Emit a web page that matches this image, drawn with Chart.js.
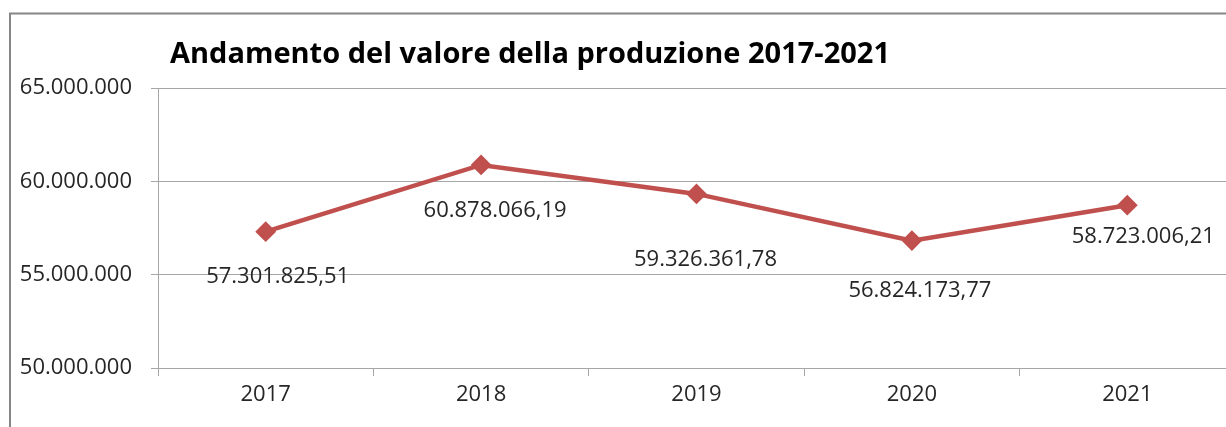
<!DOCTYPE html>
<html lang="it">
<head>
<meta charset="utf-8">
<title>Andamento del valore della produzione 2017-2021</title>
<script src="https://cdn.jsdelivr.net/npm/chart.js@4/dist/chart.umd.min.js"></script>
<style>
  html, body { margin: 0; padding: 0; background: #ffffff; overflow: hidden; }
  #wrap { width: 1226px; height: 427px; overflow: hidden; }
  canvas { display: block; }
</style>
</head>
<body>
<div id="wrap"><canvas id="chart" width="1260" height="427"></canvas></div>
<script>
// Production value by year (euro)
const years = ['2017', '2018', '2019', '2020', '2021'];
const productionValue = [57301825.51, 60878066.19, 59326361.78, 56824173.77, 58723006.21];
const yTicks = [50000000, 55000000, 60000000, 65000000];
const chartTitle = 'Andamento del valore della produzione 2017-2021';

const FONT = '"Open Sans", "DejaVu Sans", sans-serif';
const RED = '#C0504D';
const GRID = '#a6a6a6';

// Italian number formatting: "." thousands, "," decimals
function formatIt(value, decimals) {
  const neg = value < 0;
  const fixed = Math.abs(value).toFixed(decimals);
  const parts = fixed.split('.');
  const intPart = parts[0].replace(/\B(?=(\d{3})+(?!\d))/g, '.');
  return (neg ? '-' : '') + intPart + (decimals > 0 ? ',' + parts[1] : '');
}

// Outer frame and the title text
const framePlugin = {
  id: 'frame',
  beforeDraw(chart) {
    const ctx = chart.ctx;
    ctx.save();
    ctx.strokeStyle = '#868686';
    ctx.lineWidth = 2;
    ctx.strokeRect(10, 13.5, chart.width + 40, chart.height + 40);
    ctx.fillStyle = '#000000';
    ctx.font = 'bold 29px ' + FONT;
    ctx.textAlign = 'left';
    ctx.textBaseline = 'alphabetic';
    ctx.fillText(chartTitle, 170, 63);
    ctx.restore();
  }
};

// Value labels placed below each marker
const pointValuesPlugin = {
  id: 'pointValues',
  afterDatasetsDraw(chart, args, opts) {
    const ctx = chart.ctx;
    const meta = chart.getDatasetMeta(0);
    const values = chart.data.datasets[0].data;
    ctx.save();
    ctx.font = opts.font;
    ctx.fillStyle = opts.color;
    ctx.textAlign = 'center';
    ctx.textBaseline = 'alphabetic';
    meta.data.forEach((pt, i) => {
      const off = opts.offsets[i] || [0, 0];
      ctx.fillText(formatIt(values[i], 2), pt.x + off[0], pt.y + off[1]);
    });
    ctx.restore();
  }
};

new Chart(document.getElementById('chart'), {
  type: 'line',
  data: {
    labels: years,
    datasets: [{
      data: productionValue,
      borderColor: RED,
      backgroundColor: RED,
      borderWidth: 4.5,
      tension: 0,
      pointStyle: 'rectRot',
      pointRadius: 9,
      pointBorderWidth: 2,
      pointBorderColor: RED,
      pointBackgroundColor: RED,
      fill: false
    }]
  },
  options: {
    responsive: false,
    animation: false,
    events: [],
    layout: { padding: { top: 88, right: 25, bottom: 0, left: 0 } },
    plugins: {
      legend: { display: false },
      tooltip: { enabled: false },
      title: { display: false },
      pointValues: {
        font: '22px ' + FONT,
        color: '#262626',
        offsets: [[12, 51], [14, 52], [9, 72], [8, 56], [16, 38]]
      }
    },
    scales: {
      x: {
        type: 'category',
        offset: true,
        afterFit(scale) { scale.height = 59; },
        grid: {
          display: true,
          offset: true,
          drawOnChartArea: false,
          drawTicks: true,
          tickLength: 8,
          color: GRID,
          lineWidth: 1
        },
        border: { display: true, color: GRID, width: 1 },
        ticks: {
          font: { family: FONT, size: 22 },
          color: '#262626',
          padding: 6,
          maxRotation: 0
        }
      },
      y: {
        min: 50000000,
        max: 65000000,
        afterFit(scale) { scale.width = 158; },
        afterBuildTicks(scale) { scale.ticks = yTicks.map(v => ({ value: v })); },
        grid: {
          display: true,
          drawOnChartArea: true,
          drawTicks: true,
          tickLength: 7,
          color: GRID,
          lineWidth: 1
        },
        border: { display: true, color: GRID, width: 1 },
        ticks: {
          font: { family: FONT, size: 22 },
          color: '#262626',
          padding: 19,
          callback: (v) => formatIt(v, 0)
        }
      }
    }
  },
  plugins: [framePlugin, pointValuesPlugin]
});
</script>
</body>
</html>
